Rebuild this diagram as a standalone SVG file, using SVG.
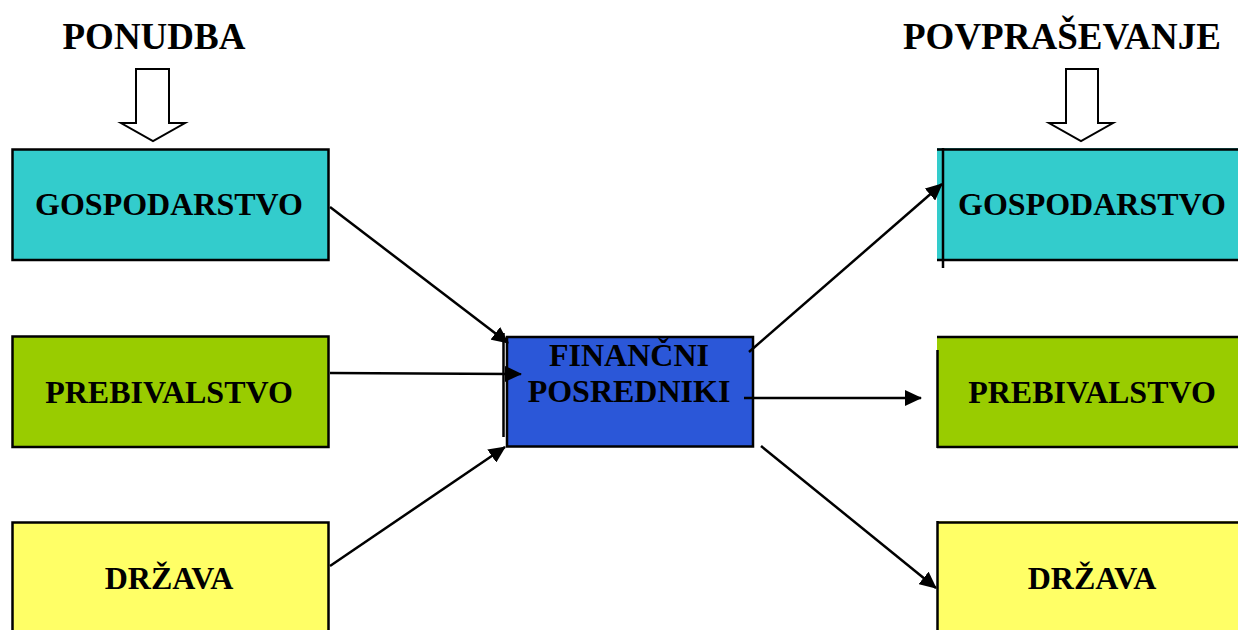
<svg xmlns="http://www.w3.org/2000/svg" width="1238" height="630" viewBox="0 0 1238 630">
<style>
text{font-family:"Liberation Serif","Times New Roman",serif;font-weight:bold;fill:#000;text-anchor:middle}
.h{font-size:37px}
.t{font-size:32px}
.b{stroke:#000;stroke-width:2.5}
.e{stroke:#000;stroke-width:2.5;fill:none}
.c{stroke:#000;stroke-width:2.5;fill:none;marker-end:url(#ah)}
.blk{fill:#fff;stroke:#000;stroke-width:2}
.cy{fill:#33CCCC}.gr{fill:#99CC00}.ye{fill:#FFFF66}.bl{fill:#2B57D8}
</style>
<defs>
<marker id="ah" markerUnits="userSpaceOnUse" markerWidth="17" markerHeight="16" refX="16" refY="8" orient="auto" viewBox="0 0 17 16">
<path d="M0,0 L17,8 L0,16 z" fill="#000"/>
</marker>
</defs>
<rect width="1238" height="630" fill="#fff"/>

<g id="ponudba">
<text class="h" x="154" y="49">PONUDBA</text>
<polygon class="blk" points="136,69 169,69 169,123 185,123 153,141 121,123 136,123"/>
</g>
<g id="povprasevanje">
<text class="h" x="1062" y="49">POVPRAŠEVANJE</text>
<polygon class="blk" points="1066,69 1098,69 1098,123 1113,123 1081,141 1049,123 1066,123"/>
</g>

<g id="l-gospodarstvo">
<rect class="cy b" x="12.5" y="149.5" width="316" height="110.5"/>
<text class="t" x="169" y="215">GOSPODARSTVO</text>
</g>
<g id="l-prebivalstvo">
<rect class="gr b" x="12.5" y="336.5" width="316" height="110.5"/>
<text class="t" x="169" y="403">PREBIVALSTVO</text>
</g>
<g id="l-drzava">
<rect class="ye b" x="12.5" y="522.5" width="316" height="120"/>
<text class="t" x="169" y="589">DRŽAVA</text>
</g>

<g id="financni">
<rect class="bl b" x="507" y="337" width="246" height="109.5"/>
<line class="e" x1="503.5" y1="333" x2="503.5" y2="437" stroke-width="2"/>
<text class="t" x="629" y="366">FINANČNI</text>
<text class="t" x="629" y="402">POSREDNIKI</text>
</g>

<g id="r-gospodarstvo">
<rect class="cy" x="937" y="148" width="310" height="113"/>
<line class="e" x1="937" y1="149.5" x2="1238" y2="149.5"/>
<line class="e" x1="937" y1="260" x2="1238" y2="260"/>
<line class="e" x1="943" y1="148" x2="943" y2="268" stroke-width="2"/>
<text class="t" x="1092" y="215">GOSPODARSTVO</text>
</g>
<g id="r-prebivalstvo">
<rect class="gr" x="937" y="336" width="310" height="112"/>
<line class="e" x1="937" y1="337" x2="1238" y2="337"/>
<line class="e" x1="937" y1="447" x2="1238" y2="447"/>
<line class="e" x1="937.5" y1="350" x2="937.5" y2="448" stroke-width="2"/>
<text class="t" x="1092" y="403">PREBIVALSTVO</text>
</g>
<g id="r-drzava">
<rect class="ye" x="937" y="521" width="310" height="120"/>
<line class="e" x1="937" y1="522.5" x2="1238" y2="522.5"/>
<line class="e" x1="937.5" y1="521" x2="937.5" y2="630" stroke-width="2"/>
<text class="t" x="1092" y="589">DRŽAVA</text>
</g>

<g id="connectors">
<line class="c" x1="330" y1="207" x2="508" y2="343"/>
<line class="c" x1="330" y1="373" x2="521" y2="374"/>
<line class="c" x1="330" y1="566" x2="505" y2="447"/>
<line class="c" x1="749" y1="352" x2="942" y2="184"/>
<line class="c" x1="744" y1="398" x2="921" y2="398"/>
<line class="c" x1="761" y1="446" x2="936" y2="588"/>
</g>
</svg>
